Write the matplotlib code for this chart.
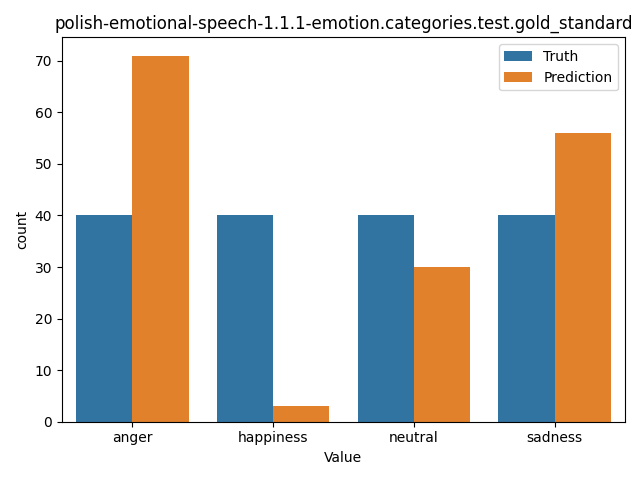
import matplotlib
matplotlib.use("Agg")
import matplotlib.pyplot as plt
import numpy as np

categories = ["anger", "happiness", "neutral", "sadness"]
truth_counts = [40, 40, 40, 40]
prediction_counts = [71, 3, 30, 56]
series_names = ["Truth", "Prediction"]

fig, ax = plt.subplots(figsize=(6.4, 4.8), dpi=100)
x = np.arange(len(categories))
w = 0.4
ax.bar(x - w / 2, truth_counts, width=w, color="#3274a1", label=series_names[0])
ax.bar(x + w / 2, prediction_counts, width=w, color="#e1812c", label=series_names[1])

ax.set_xticks(x)
ax.set_xticklabels(categories)
ax.set_xlim(-0.5, len(categories) - 0.5)
ax.set_xlabel("Value")
ax.set_ylabel("count")
ax.set_title("polish-emotional-speech-1.1.1-emotion.categories.test.gold_standard")
ax.legend(loc="upper right")

fig.tight_layout()
fig.savefig("out.png", dpi=100)
